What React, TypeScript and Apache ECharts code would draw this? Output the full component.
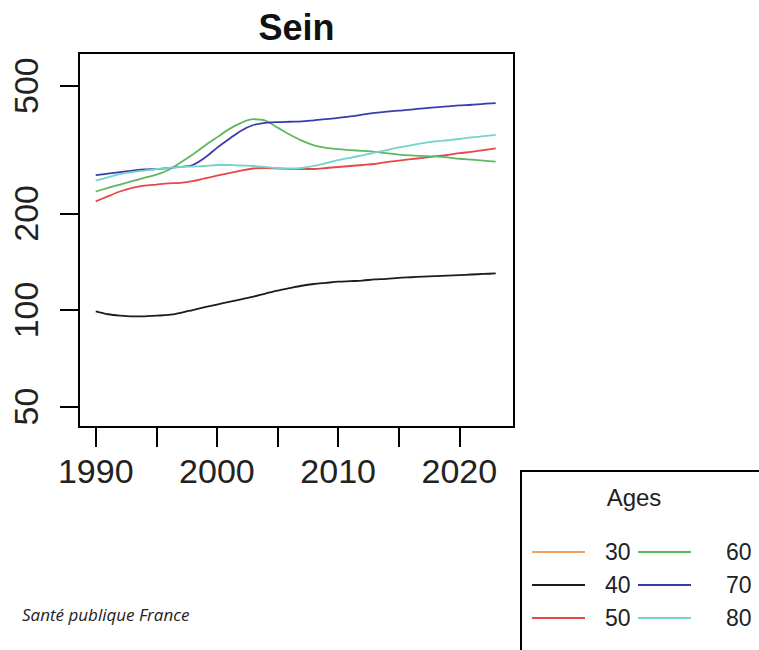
import React, { useEffect, useRef } from 'react';
import * as echarts from 'echarts';

// Years of the series
const years = [
  1990, 1991, 1992, 1993, 1994, 1995, 1996, 1997, 1998, 1999,
  2000, 2001, 2002, 2003, 2004, 2005, 2006, 2007, 2008, 2009,
  2010, 2011, 2012, 2013, 2014, 2015, 2016, 2017, 2018, 2019,
  2020, 2021, 2022, 2023,
];

// Age 30: below the displayed range (no visible line)
const age30: number[] = [];
const age40 = [
  99, 97, 96, 95.5, 95.5, 96, 96.5, 98, 100, 102,
  104, 106, 108, 110, 112.5, 115, 117, 119, 120.5, 121.5,
  122.5, 123, 123.5, 124.5, 125, 126, 126.5, 127, 127.5, 128,
  128.5, 129, 129.5, 130,
];
const age50 = [
  218, 226, 234, 240, 244, 246, 248, 249, 252, 257,
  262, 267, 272, 276, 277, 276, 275, 275, 275, 277,
  279, 281, 283, 285, 289, 292, 295, 298, 301, 304,
  308, 311, 315, 319,
];
const age60 = [
  234, 240, 246, 252, 258, 264, 273, 288, 305, 325,
  345, 366, 383, 393, 389, 370, 352, 337, 326, 320,
  317, 315, 313, 311, 308, 305, 303, 302, 301, 299,
  296, 294, 292, 290,
];
const age70 = [
  263, 266, 269, 272, 274, 275, 277, 279, 283, 298,
  320, 341, 362, 377, 383, 385, 386, 387, 390, 393,
  397, 401, 406, 411, 415, 418, 421, 425, 428, 431,
  434, 436, 439, 441,
];
const age80 = [
  253, 259, 265, 269, 272, 275, 277, 279, 280, 281,
  283, 283, 282, 281, 279, 277, 276, 277, 281, 287,
  293, 298, 303, 309, 315, 321, 326, 331, 335, 338,
  341, 345, 348, 351,
];

const seriesNames = ['30', '40', '50', '60', '70', '80'];
const seriesValues = [age30, age40, age50, age60, age70, age80];
const seriesColors = ['#F5A25E', '#1c1c1c', '#E8474A', '#5DB860', '#3A3CAE', '#74D3CC'];

const yTickValues = [50, 100, 200, 500];
const xTickValues = [1990, 1995, 2000, 2005, 2010, 2015, 2020];
const xLabelValues = [1990, 2000, 2010, 2020];

const yMin = 43.2;
const yMax = 632;
const xMin = 1988.62;
const xMax = 2024.51;

export default function App() {
  const ref = useRef<HTMLDivElement>(null);

  useEffect(() => {
    if (!ref.current) return;
    const chart = echarts.init(ref.current, undefined, { renderer: 'svg' });
    const L = (v: number) => Math.log10(v);
    const font = 'Liberation Sans, Arial, Helvetica, sans-serif';

    const legendBase = {
      orient: 'vertical',
      top: 535,
      icon: 'rect',
      itemWidth: 53,
      itemHeight: 2,
      itemGap: 9,
      selectedMode: false,
    };

    const option: any = {
      animation: false,
      backgroundColor: '#ffffff',
      grid: {
        left: 79,
        top: 53,
        width: 435,
        height: 374,
        show: true,
        borderColor: '#000',
        borderWidth: 2,
        backgroundColor: 'transparent',
        containLabel: false,
      },
      xAxis: {
        type: 'value',
        min: xMin,
        max: xMax,
        splitLine: { show: false },
        axisLine: { show: false },
        axisTick: {
          show: true,
          length: 20,
          customValues: xTickValues,
          lineStyle: { color: '#000', width: 2 },
        },
        axisLabel: {
          customValues: xLabelValues,
          fontSize: 34,
          fontFamily: font,
          color: '#222',
          margin: 27,
          formatter: (v: number) => String(Math.round(v)),
        },
      },
      yAxis: {
        type: 'value',
        min: L(yMin),
        max: L(yMax),
        splitLine: { show: false },
        axisLine: { show: false },
        axisTick: {
          show: true,
          length: 19,
          customValues: yTickValues.map(L),
          lineStyle: { color: '#000', width: 2 },
        },
        axisLabel: {
          customValues: yTickValues.map(L),
          rotate: 90,
          fontSize: 34,
          fontFamily: font,
          color: '#222',
          margin: 36,
          formatter: (v: number) => String(Math.round(Math.pow(10, v))),
        },
      },
      legend: [
        {
          ...legendBase,
          data: seriesNames.slice(0, 3),
          left: 527,
          textStyle: { fontSize: 23, fontFamily: font, color: '#222', lineHeight: 24, padding: [0, 0, 0, 15] },
        },
        {
          ...legendBase,
          data: seriesNames.slice(3, 6),
          left: 633,
          textStyle: { fontSize: 23, fontFamily: font, color: '#222', lineHeight: 24, padding: [0, 0, 0, 30] },
        },
      ],
      series: seriesNames.map((name, i) => ({
        name,
        type: 'line',
        symbol: 'none',
        smooth: 0.3,
        color: seriesColors[i],
        lineStyle: { width: 1.8, color: seriesColors[i] },
        data: seriesValues[i].map((v, j) => [years[j], L(v)]),
      })),
      graphic: [
        {
          type: 'text',
          x: 296.5,
          y: 27,
          style: {
            text: 'Sein',
            fontSize: 36,
            fontWeight: 'bold',
            fontFamily: font,
            fill: '#111',
            textAlign: 'center',
            textVerticalAlign: 'middle',
          },
        },
        {
          type: 'rect',
          shape: { x: 521, y: 471, width: 260, height: 200 },
          style: { fill: 'transparent', stroke: '#000', lineWidth: 2 },
        },
        {
          type: 'text',
          x: 634,
          y: 497,
          style: {
            text: 'Ages',
            fontSize: 24,
            fontFamily: font,
            fill: '#222',
            textAlign: 'center',
            textVerticalAlign: 'middle',
          },
        },
        {
          type: 'text',
          x: 22,
          y: 614,
          style: {
            text: 'Santé publique France',
            fontSize: 17,
            fontStyle: 'italic',
            fontFamily: 'Open Sans, sans-serif',
            fill: '#222',
            textAlign: 'left',
            textVerticalAlign: 'middle',
          },
        },
      ],
    };

    chart.setOption(option);
    return () => chart.dispose();
  }, []);

  return (
    <div
      ref={ref}
      style={{ position: 'absolute', left: 0, top: 0, width: 759, height: 650, background: '#fff' }}
    />
  );
}
